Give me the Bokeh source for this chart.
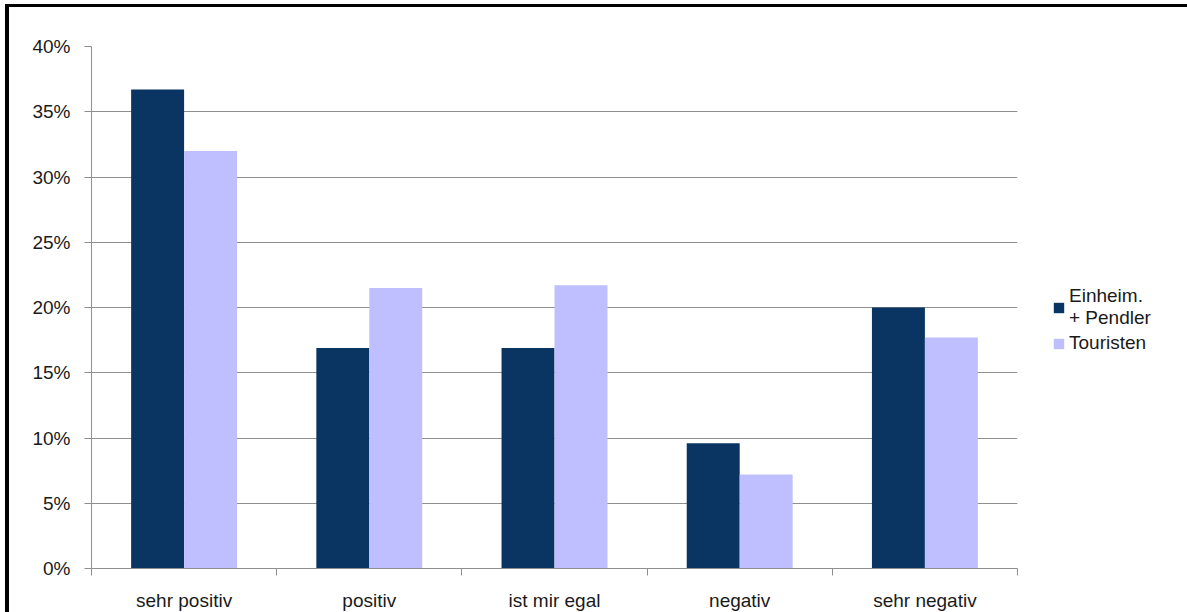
from bokeh.plotting import figure
from bokeh.models import (ColumnDataSource, FixedTicker, NumeralTickFormatter,
                          Legend, LegendItem, Range1d)
from bokeh.transform import dodge
from bokeh.embed import file_html
from bokeh.resources import INLINE

# Survey answers and shares per group
categories = ["sehr positiv", "positiv", "ist mir egal", "negativ", "sehr negativ"]
einheim_pendler = [0.367, 0.169, 0.169, 0.096, 0.200]
touristen = [0.320, 0.215, 0.217, 0.072, 0.177]
series_labels = ["Einheim.\n+ Pendler", "Touristen"]
y_ticks = [0.0, 0.05, 0.10, 0.15, 0.20, 0.25, 0.30, 0.35, 0.40]

FONT = "Liberation Sans"
DARK = "#0A3563"
LIGHT = "#BFBFFF"
GRID = "#8F8F8F"
TEXT = "#1A1A1A"

centers = [i + 0.5 for i in range(len(categories))]
source = ColumnDataSource(dict(x=centers, cat=categories,
                               a=einheim_pendler, b=touristen))

p = figure(frame_width=926, frame_height=522, output_backend="svg",
           toolbar_location=None,
           x_range=Range1d(0, len(categories)), y_range=Range1d(0, 0.40),
           min_border_left=82, min_border_right=165,
           min_border_top=39, min_border_bottom=44,
           outline_line_color=None, background_fill_color="white",
           border_fill_color="white")
p.styles = {"border-left": "4px solid black", "border-top": "3px solid black",
            "border-right": "2px solid black", "margin-left": "5px",
            "margin-top": "4px"}

bw = 0.286
r1 = p.vbar(x=dodge("x", -bw / 2, range=p.x_range), top="a", width=bw,
            source=source, fill_color=DARK, line_color=None)
r2 = p.vbar(x=dodge("x", bw / 2, range=p.x_range), top="b", width=bw,
            source=source, fill_color=LIGHT, line_color=None)

# x axis: labels at group centres, tick marks at group boundaries
xa = p.xaxis[0]
xa.ticker = FixedTicker(ticks=centers,
                        minor_ticks=list(range(len(categories) + 1)))
xa.major_label_overrides = {c: cat for c, cat in zip(centers, categories)}
xa.major_tick_line_color = None
xa.major_tick_out = 0
xa.major_tick_in = 0
xa.minor_tick_out = 7
xa.minor_tick_in = 0
xa.minor_tick_line_color = GRID
xa.axis_line_color = GRID
xa.major_label_standoff = 14
p.xgrid.grid_line_color = None

ya = p.yaxis[0]
ya.ticker = FixedTicker(ticks=y_ticks)
ya.formatter = NumeralTickFormatter(format="0%")
ya.major_tick_out = 7
ya.major_tick_in = 0
ya.minor_tick_line_color = None
ya.major_tick_line_color = GRID
ya.axis_line_color = GRID
ya.major_label_standoff = 14
p.ygrid.grid_line_color = GRID
p.ygrid.ticker = FixedTicker(ticks=y_ticks)

for ax in (xa, ya):
    ax.major_label_text_font = FONT
    ax.major_label_text_font_size = "19px"
    ax.major_label_text_color = TEXT

# legend sits in the panel to the right of the plotting area
legend = Legend(items=[LegendItem(label=series_labels[0], renderers=[r1]),
                       LegendItem(label=series_labels[1], renderers=[r2])],
                location=(35, 214), orientation="vertical")
legend.label_text_font = FONT
legend.label_text_font_size = "19px"
legend.label_text_color = TEXT
legend.glyph_width = 13
legend.glyph_height = 13
legend.label_standoff = 4
legend.spacing = 3
legend.padding = 0
legend.margin = 0
legend.border_line_color = None
legend.background_fill_alpha = 0
p.add_layout(legend, "right")

open("out.html", "w").write(file_html(p, INLINE))
